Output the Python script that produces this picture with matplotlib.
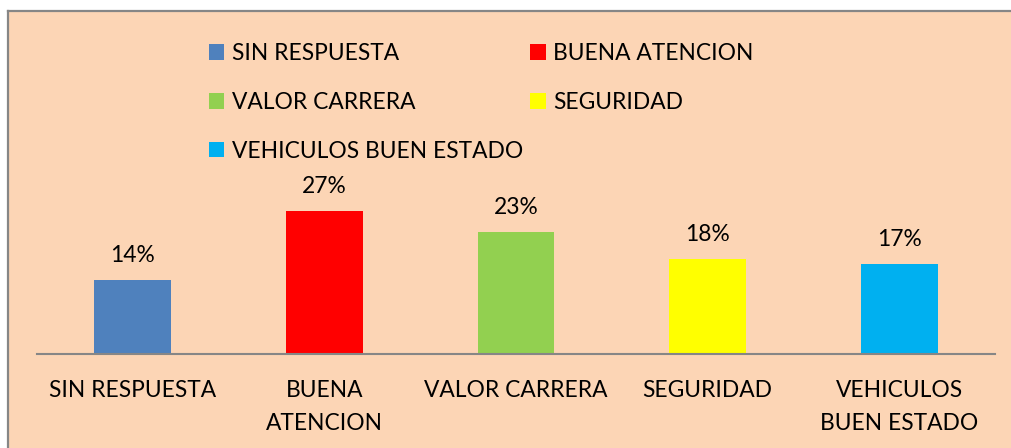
import matplotlib
matplotlib.use("Agg")
import matplotlib.pyplot as plt
from matplotlib.patches import Rectangle, Patch
from matplotlib.lines import Line2D

categories = ["SIN RESPUESTA", "BUENA ATENCION", "VALOR CARRERA", "SEGURIDAD", "VEHICULOS BUEN ESTADO"]
tick_labels = ["SIN RESPUESTA", "BUENA\nATENCION", "VALOR CARRERA", "SEGURIDAD", "VEHICULOS\nBUEN ESTADO"]
values = [14, 27, 23, 18, 17]
value_labels = ["14%", "27%", "23%", "18%", "17%"]
colors = ["#4F81BD", "#FF0000", "#92D050", "#FFFF00", "#00B0F0"]

plt.rcParams['font.family'] = ['Lato', 'DejaVu Sans']
FS = 16.4
W, H = 1011, 448
BG = "#FCD5B5"
GRAY = "#868686"

fig = plt.figure(figsize=(W / 100, H / 100), dpi=100)
fig.patch.set_facecolor("white")
fig.patches.append(Rectangle((8 / W, 0), 1 - 8 / W, (H - 11) / H,
                             transform=fig.transFigure, facecolor=BG,
                             edgecolor='none', zorder=-10))
fig.add_artist(Line2D([8 / W, 1], [(H - 11) / H, (H - 11) / H], color=GRAY,
                      linewidth=1.6, transform=fig.transFigure, zorder=-9,
                      solid_capstyle='projecting'))
fig.add_artist(Line2D([8 / W, 8 / W], [0, (H - 11) / H], color=GRAY,
                      linewidth=1.6, transform=fig.transFigure, zorder=-9,
                      solid_capstyle='projecting'))

ax = fig.add_axes([37 / W, (H - 354) / H, 958 / W, 334 / H])
ax.set_zorder(5)
ax.set_facecolor("none")
x = list(range(len(categories)))
bars = ax.bar(x, values, width=0.40, color=colors, zorder=2)
ax.set_xlim(-0.5, len(categories) - 0.5)
ax.set_ylim(0, 63)
ax.bar_label(bars, labels=value_labels, padding=10, fontsize=FS)

ax.set_xticks(x)
ax.set_xticklabels(tick_labels, fontsize=FS, linespacing=1.7)
ax.tick_params(axis='x', length=0, pad=18.5)
ax.set_yticks([])
for s in ["top", "right", "left"]:
    ax.spines[s].set_visible(False)
ax.spines["bottom"].set_color(GRAY)
ax.spines["bottom"].set_linewidth(1.5)

order = [0, 2, 4, 1, 3]
handles = [Patch(facecolor=colors[i], edgecolor='none') for i in order]
labels = [categories[i] for i in order]
leg = fig.legend(handles, labels, loc='upper left', bbox_to_anchor=(209 / W, 1 - 43 / H),
                 ncol=2, frameon=False, fontsize=FS, borderpad=0, borderaxespad=0,
                 handlelength=0.68, handleheight=0.68, handletextpad=0.33,
                 labelspacing=1.22, columnspacing=0.31)
leg.set_zorder(6)

fig.savefig("out.png", dpi=100)
